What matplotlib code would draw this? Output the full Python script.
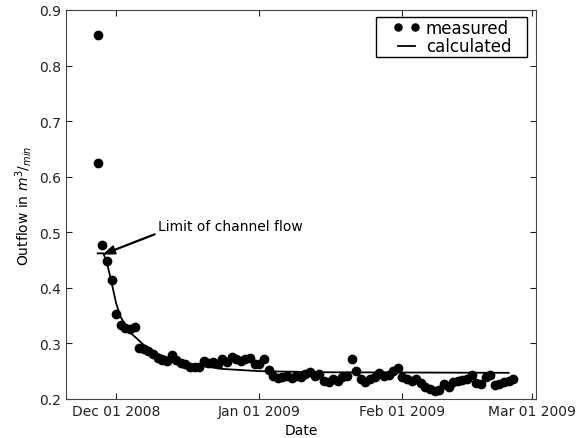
import matplotlib
matplotlib.use("Agg")
import matplotlib.pyplot as plt
import matplotlib.dates as mdates
from matplotlib.patches import Rectangle
import pandas as pd

# measured outflow, two readings on the first day then one per day
first_dates = ["2008-11-27", "2008-11-27"]
first_values = [0.855, 0.625]

daily_start = "2008-11-28"
daily_values = [
    0.477, 0.448, 0.414,
    # December
    0.353, 0.333, 0.328, 0.326, 0.330, 0.291, 0.290, 0.286, 0.280, 0.274,
    0.270, 0.268, 0.279, 0.270, 0.265, 0.262, 0.258, 0.257, 0.258, 0.268,
    0.265, 0.266, 0.263, 0.271, 0.266, 0.275, 0.272, 0.268, 0.271, 0.274,
    0.262,
    # January
    0.262, 0.272, 0.252, 0.241, 0.238, 0.240, 0.241, 0.238, 0.242, 0.240,
    0.245, 0.249, 0.242, 0.245, 0.232, 0.230, 0.235, 0.232, 0.240, 0.242,
    0.272, 0.251, 0.235, 0.230, 0.235, 0.240, 0.247, 0.242, 0.243, 0.250,
    0.256,
    # February
    0.240, 0.236, 0.232, 0.235, 0.228, 0.222, 0.218, 0.214, 0.216, 0.226,
    0.222, 0.230, 0.232, 0.234, 0.236, 0.243, 0.228, 0.226, 0.240, 0.243,
    0.225, 0.226, 0.230, 0.233, 0.236,
]

# calculated outflow
calc_dates = ["2008-11-27 00:00", "2008-11-28 06:00", "2008-11-29 00:00",
              "2008-11-30 00:00", "2008-12-01 00:00", "2008-12-02 00:00",
              "2008-12-04 00:00", "2008-12-07 00:00", "2008-12-10 00:00",
              "2008-12-14 00:00", "2008-12-18 00:00", "2008-12-24 00:00",
              "2009-01-01 00:00", "2009-01-15 00:00", "2009-02-24 00:00"]
calc_values = [0.462, 0.462, 0.445, 0.410, 0.372, 0.347, 0.320, 0.297,
               0.281, 0.269, 0.261, 0.254, 0.250, 0.248, 0.247]

tick_dates = ["2008-12-01", "2009-01-01", "2009-02-01", "2009-03-01"]

meas_x = list(pd.to_datetime(first_dates)) + \
    list(pd.date_range(daily_start, periods=len(daily_values), freq="D"))
meas_y = first_values + daily_values

fig = plt.figure(figsize=(5.8, 4.39), dpi=100)
ax = fig.add_axes([0.114, 0.089, 0.810, 0.886])

ax.plot(meas_x, meas_y, "ko", ms=6, label="measured")
ax.plot(pd.to_datetime(calc_dates), calc_values, "k-", lw=1.3, label="calculated")

ax.annotate("Limit of channel flow",
            xy=(pd.Timestamp("2008-11-28 10:00"), 0.461),
            xytext=(pd.Timestamp("2008-12-10 00:00"), 0.511),
            fontsize=10, va="center", ha="left",
            arrowprops=dict(facecolor="black", width=0.6, headwidth=6,
                            headlength=8, shrink=0.0))

ax.set_xlim(pd.Timestamp("2008-11-20 04:00"), pd.Timestamp("2009-03-01 22:00"))
ax.set_ylim(0.2, 0.9)
ax.set_xticks(pd.to_datetime(tick_dates))
ax.xaxis.set_major_formatter(mdates.DateFormatter("%b %d %Y"))
ax.tick_params(direction="in", top=True, right=True, labelsize=10,
               length=4, colors="#222222")
for s in ax.spines.values():
    s.set_color("#444444")

ax.set_xlabel("Date", fontsize=10)
ax.set_ylabel(r"Outflow in $m^3/_{min}$", fontsize=10)

# legend without its own frame; the box is drawn wider by hand below
leg = ax.legend(loc="upper right", bbox_to_anchor=(0.951, 0.982),
                borderaxespad=0, numpoints=2, fontsize=12, frameon=False,
                borderpad=0.1, labelspacing=0.05, handlelength=1.6,
                handletextpad=0.35, markerscale=0.85)

fig.canvas.draw()
bb = leg.get_window_extent()
W, H = fig.bbox.width, fig.bbox.height
pad_l, pad_r = 16, 14
frame = Rectangle(((bb.x0 - pad_l) / W, bb.y0 / H),
                  (bb.width + pad_l + pad_r) / W, bb.height / H,
                  transform=fig.transFigure, fill=False,
                  edgecolor="black", lw=1.0)
fig.patches.append(frame)

fig.savefig("out.png", dpi=100)
